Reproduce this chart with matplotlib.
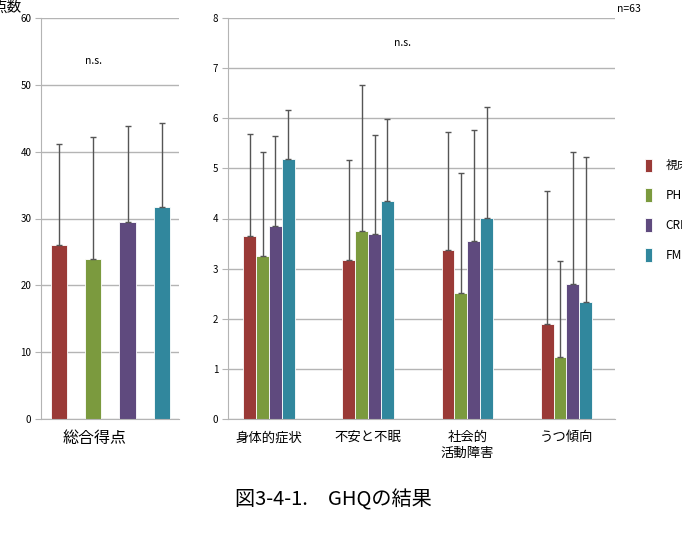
import numpy as np
import matplotlib
matplotlib.use('Agg')
import matplotlib.pyplot as plt

plt.rcParams['font.family'] = ['Noto Sans CJK JP', 'DejaVu Sans']

# data
groups = ['視床痛', 'PHN', 'CRPS', 'FM']
colors = ['#9A3A37', '#7B9A3E', '#5F4A7E', '#31879D']

total_mean = [26.1, 24.0, 29.5, 31.7]
total_sd = [15.1, 18.2, 14.3, 12.6]

sub_labels = ['身体的症状', '不安と不眠', '社会的\n活動障害', 'うつ傾向']
sub_mean = {
    '視床痛': [3.65, 3.18, 3.37, 1.90],
    'PHN': [3.26, 3.76, 2.51, 1.24],
    'CRPS': [3.85, 3.69, 3.56, 2.69],
    'FM': [5.18, 4.35, 4.01, 2.34],
}
sub_sd = {
    '視床痛': [2.04, 1.99, 2.36, 2.65],
    'PHN': [2.07, 2.90, 2.39, 1.91],
    'CRPS': [1.80, 1.98, 2.21, 2.63],
    'FM': [0.99, 1.64, 2.21, 2.89],
}

W, H = 682, 536
fig = plt.figure(figsize=(W / 100, H / 100), dpi=100)

grid_c = '#B4B4B4'
err_kw = dict(ecolor='#555555', elinewidth=1.0, capsize=2.5, capthick=1.0)


def style_axes(ax):
    for s in ['top', 'right']:
        ax.spines[s].set_visible(False)
    for s in ['left', 'bottom']:
        ax.spines[s].set_color(grid_c)
    ax.yaxis.grid(True, color=grid_c, linewidth=1.0)
    ax.set_axisbelow(True)
    ax.tick_params(axis='y', length=4, color=grid_c, labelsize=7, pad=3)
    ax.tick_params(axis='x', length=0)


# left panel: total score
ax1 = fig.add_axes([41 / W, 1 - 419 / H, 138 / W, 401 / H])
x1 = np.arange(len(groups))
ax1.bar(x1, total_mean, width=0.47, color=colors, edgecolor='white', linewidth=0.6,
        yerr=[np.zeros(4), total_sd], error_kw=err_kw)
ax1.set_xlim(-0.52, 3.5)
ax1.set_ylim(0, 60)
ax1.set_yticks(range(0, 61, 10))
ax1.set_xticks([])
style_axes(ax1)
ax1.text(1.0, 53.5, 'n.s.', fontsize=7.5, ha='center', va='center')

# right panel: subscales
ax2 = fig.add_axes([228 / W, 1 - 419 / H, 387 / W, 401 / H])
x2 = np.arange(len(sub_labels))
bw = 0.13
for i, g in enumerate(groups):
    ax2.bar(x2 + (i - 1.5) * bw, sub_mean[g], width=bw, color=colors[i],
            edgecolor='white', linewidth=0.6, label=g,
            yerr=[np.zeros(4), sub_sd[g]], error_kw=err_kw)
ax2.set_xlim(-0.414, 3.49)
ax2.set_ylim(0, 8)
ax2.set_yticks(range(0, 9))
ax2.set_xticks(x2)
ax2.set_xticklabels(sub_labels, fontsize=9.6, linespacing=1.15)
style_axes(ax2)
ax2.tick_params(axis='x', pad=8)
ax2.text(1.35, 7.5, 'n.s.', fontsize=7.5, ha='center', va='center')

# legend (cut off at the right edge like the original)
ax2.legend(loc='upper left', bbox_to_anchor=(634 / W, 1 - 148 / H),
           bbox_transform=fig.transFigure, frameon=False, fontsize=8.5,
           handlelength=0.6, handleheight=1.4, labelspacing=1.36, handletextpad=1.2)

fig.text(-8 / W, 1 - 8 / H, '点数', fontsize=10.5, ha='left', va='center')
fig.text(617 / W, 1 - 9 / H, 'n=63', fontsize=7.5, ha='left', va='center')
fig.text(95 / W, 1 - 438 / H, '総合得点', fontsize=11.5, ha='center', va='center')
fig.text(333 / W, 1 - 500 / H, '図3-4-1.　GHQの結果', fontsize=14.5, ha='center', va='center')

fig.savefig('out.png', dpi=100, facecolor='white')
